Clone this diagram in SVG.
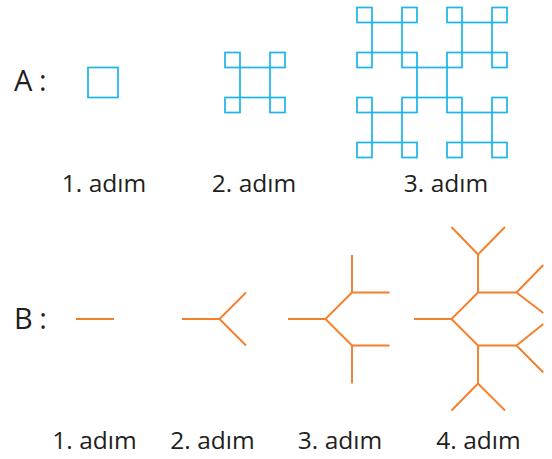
<svg xmlns="http://www.w3.org/2000/svg" width="552" height="459" viewBox="0 0 552 459">
<style>
  .lbl { font-family: "Open Sans", "Noto Sans", "Liberation Sans", sans-serif; font-size: 24.5px; fill: #231f20; text-anchor: middle; }
  .big { font-family: "Open Sans", "Noto Sans", "Liberation Sans", sans-serif; font-size: 29px; fill: #231f20; }
  .sq { fill: none; stroke: #1cb4ea; stroke-width: 1.7; }
  .br { fill: none; stroke: #f47e2a; stroke-width: 1.9; stroke-linecap: butt; stroke-linejoin: miter; }
</style>
<defs>
  <!-- step-2 square figure centered at origin -->
  <g id="fig2">
    <rect class="sq" x="-15" y="-15" width="30" height="30"/>
    <rect class="sq" x="-30" y="-30" width="15" height="15"/>
    <rect class="sq" x="15" y="-30" width="15" height="15"/>
    <rect class="sq" x="-30" y="15" width="15" height="15"/>
    <rect class="sq" x="15" y="15" width="15" height="15"/>
  </g>
</defs>

<rect width="552" height="459" fill="#ffffff"/>

<text class="big" x="14" y="91">A<tspan dx="-1"> :</tspan></text>
<text class="big" x="14" y="329">B<tspan dx="-1"> :</tspan></text>

<g id="A1">
  <rect class="sq" x="88" y="67.5" width="30" height="30"/>
</g>
<g id="A2">
  <use href="#fig2" transform="translate(255,82.5)"/>
</g>
<g id="A3">
  <rect class="sq" x="417" y="67.5" width="30" height="30"/>
  <use href="#fig2" transform="translate(387,37.5)"/>
  <use href="#fig2" transform="translate(477,37.5)"/>
  <use href="#fig2" transform="translate(387,127.5)"/>
  <use href="#fig2" transform="translate(477,127.5)"/>
</g>

<g id="labelsA">
  <text class="lbl" x="104" y="192">1. adım</text>
  <text class="lbl" x="254" y="192">2. adım</text>
  <text class="lbl" x="446" y="192">3. adım</text>
</g>

<g id="B1">
  <path class="br" d="M76,319 H114"/>
</g>
<g id="B2">
  <path class="br" d="M182,319 H219.5 L246,292.5 M219.5,319 L246,345.5"/>
</g>
<g id="B3">
  <path class="br" d="M288,319 H325.5 L352,292.5 V255 M352,292.5 H389.5 M325.5,319 L352,345.5 V383.5 M352,345.5 H389.5"/>
</g>
<g id="B4">
  <path class="br" d="M414,319 H451.5 L478,292.5 V254.5 L451.5,227 M478,254.5 L505,227 M478,292.5 H516.5 L543.3,265 M516.5,292.5 L543.3,313
  M451.5,319 L478,345.5 V383.5 L451.5,410.5 M478,383.5 L505,410.5 M478,345.5 H516.5 L543.3,324 M516.5,345.5 L543.3,372.5"/>
</g>

<g id="labelsB">
  <text class="lbl" x="94.5" y="449">1. adım</text>
  <text class="lbl" x="212.5" y="449">2. adım</text>
  <text class="lbl" x="340" y="449">3. adım</text>
  <text class="lbl" x="478.5" y="449">4. adım</text>
</g>
</svg>
